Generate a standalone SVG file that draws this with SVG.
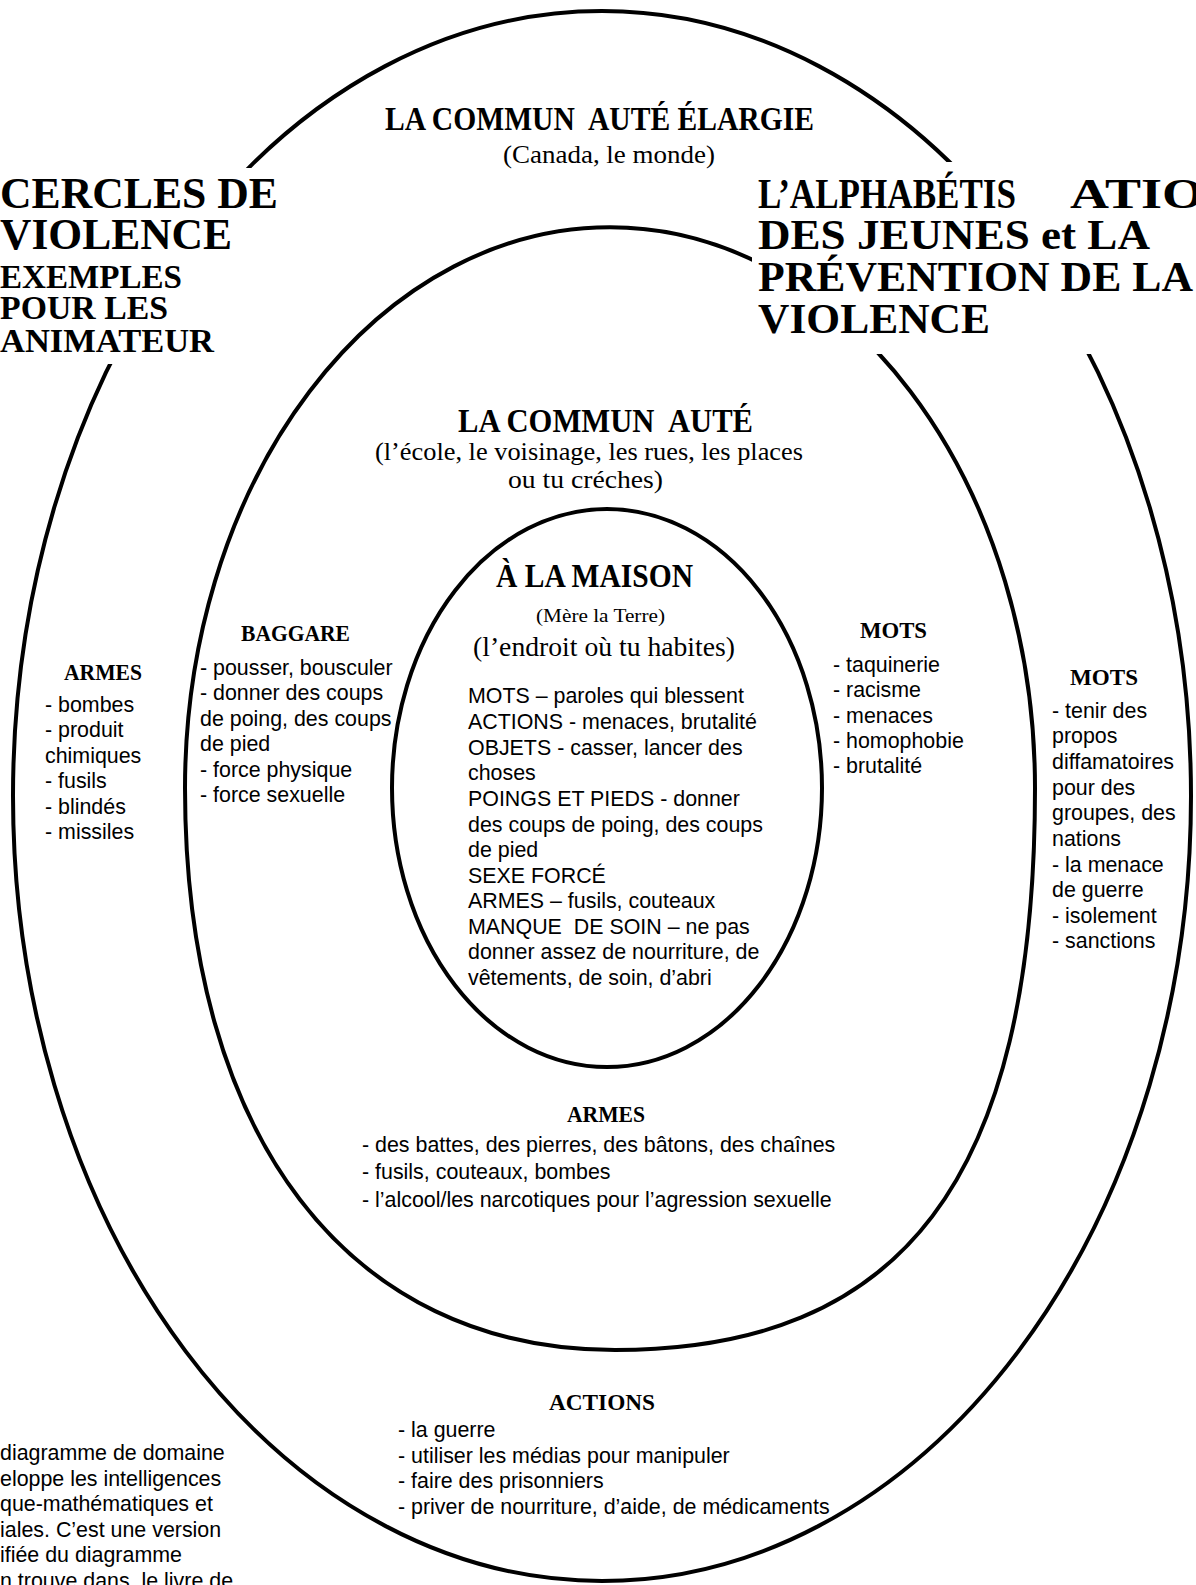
<svg xmlns="http://www.w3.org/2000/svg" width="1196" height="1585" viewBox="0 0 1196 1585">
<style>
.ring{fill:none;stroke:#000;stroke-width:4}
.mask{fill:#fff;stroke:none}
.ttl{font-family:"Liberation Serif","Times New Roman",serif;font-weight:bold;fill:#000;white-space:pre}
.hd{font-family:"Liberation Serif","Times New Roman",serif;font-weight:bold;font-size:24px;fill:#000;white-space:pre}
.sub{font-family:"Liberation Serif","Times New Roman",serif;fill:#000;white-space:pre}
.bd{font-family:"Liberation Sans",Arial,sans-serif;font-size:21.4px;fill:#000;white-space:pre}
</style>
<rect width="1196" height="1585" fill="#fff"/>
<g id="rings">
  <ellipse id="ring-outer" class="ring" cx="602" cy="796" rx="589" ry="785"/>
  <path id="ring-middle" class="ring" d="M 185 788 A 425 561 0 0 1 1035 788 C 1035 1181 901 1350 615 1350 C 348 1350 185 1136 185 788 Z"/>
  <ellipse id="ring-inner" class="ring" cx="607" cy="788" rx="215" ry="279"/>
</g>
<g id="connectors"/>
<g id="title-left">
  <rect class="mask" x="-2" y="168" width="286" height="196"/>
  <text class="ttl" x="0" y="208" font-size="45" textLength="278" lengthAdjust="spacingAndGlyphs">CERCLES DE</text>
  <text class="ttl" x="0" y="249" font-size="45" textLength="232" lengthAdjust="spacingAndGlyphs">VIOLENCE</text>
  <text class="ttl" x="0" y="288" font-size="34" textLength="182" lengthAdjust="spacingAndGlyphs">EXEMPLES</text>
  <text class="ttl" x="0" y="319" font-size="34" textLength="168" lengthAdjust="spacingAndGlyphs">POUR LES</text>
  <text class="ttl" x="0" y="352" font-size="34" textLength="214" lengthAdjust="spacingAndGlyphs">ANIMATEUR</text>
</g>
<g id="title-right">
  <rect class="mask" x="752" y="162" width="446" height="192"/>
  <text class="ttl" x="758" y="208" font-size="42" textLength="258" lengthAdjust="spacingAndGlyphs">L’ALPHABÉTIS</text>
  <text class="ttl" x="1070" y="208" font-size="42" textLength="134" lengthAdjust="spacingAndGlyphs">ATIO</text>
  <text class="ttl" x="758" y="249" font-size="42" textLength="392" lengthAdjust="spacingAndGlyphs">DES JEUNES et LA</text>
  <text class="ttl" x="758" y="291" font-size="42" textLength="435" lengthAdjust="spacingAndGlyphs">PRÉVENTION DE LA</text>
  <text class="ttl" x="758" y="333" font-size="42" textLength="232" lengthAdjust="spacingAndGlyphs">VIOLENCE</text>
</g>
<g id="node-outer">
  <text class="ttl" x="385" y="130" font-size="33" textLength="429" lengthAdjust="spacingAndGlyphs">LA COMMUN  AUTÉ ÉLARGIE</text>
  <text class="sub" x="503" y="163" font-size="26" textLength="212" lengthAdjust="spacingAndGlyphs">(Canada, le monde)</text>
  <text class="hd" x="64" y="680" textLength="78" lengthAdjust="spacingAndGlyphs">ARMES</text>
  <text class="bd" x="45" y="712">- bombes</text>
  <text class="bd" x="45" y="737">- produit</text>
  <text class="bd" x="45" y="763">chimiques</text>
  <text class="bd" x="45" y="788">- fusils</text>
  <text class="bd" x="45" y="814">- blindés</text>
  <text class="bd" x="45" y="839">- missiles</text>
  <text class="hd" x="1070" y="685" textLength="68" lengthAdjust="spacingAndGlyphs">MOTS</text>
  <text class="bd" x="1052" y="718">- tenir des</text>
  <text class="bd" x="1052" y="743">propos</text>
  <text class="bd" x="1052" y="769">diffamatoires</text>
  <text class="bd" x="1052" y="795">pour des</text>
  <text class="bd" x="1052" y="820">groupes, des</text>
  <text class="bd" x="1052" y="846">nations</text>
  <text class="bd" x="1052" y="872">- la menace</text>
  <text class="bd" x="1052" y="897">de guerre</text>
  <text class="bd" x="1052" y="923">- isolement</text>
  <text class="bd" x="1052" y="948">- sanctions</text>
  <text class="hd" x="549" y="1410" textLength="106" lengthAdjust="spacingAndGlyphs">ACTIONS</text>
  <text class="bd" x="398" y="1437">- la guerre</text>
  <text class="bd" x="398" y="1463">- utiliser les médias pour manipuler</text>
  <text class="bd" x="398" y="1488">- faire des prisonniers</text>
  <text class="bd" x="398" y="1514">- priver de nourriture, d’aide, de médicaments</text>
</g>
<g id="node-middle">
  <text class="ttl" x="458" y="432" font-size="33" textLength="295" lengthAdjust="spacingAndGlyphs">LA COMMUN  AUTÉ</text>
  <text class="sub" x="375" y="460" font-size="26" textLength="428" lengthAdjust="spacingAndGlyphs">(l’école, le voisinage, les rues, les places</text>
  <text class="sub" x="508" y="488" font-size="26" textLength="155" lengthAdjust="spacingAndGlyphs">ou tu créches)</text>
  <text class="hd" x="241" y="641" textLength="109" lengthAdjust="spacingAndGlyphs">BAGGARE</text>
  <text class="bd" x="200" y="675">- pousser, bousculer</text>
  <text class="bd" x="200" y="700">- donner des coups</text>
  <text class="bd" x="200" y="726">de poing, des coups</text>
  <text class="bd" x="200" y="751">de pied</text>
  <text class="bd" x="200" y="777">- force physique</text>
  <text class="bd" x="200" y="802">- force sexuelle</text>
  <text class="hd" x="860" y="638" textLength="67" lengthAdjust="spacingAndGlyphs">MOTS</text>
  <text class="bd" x="833" y="672">- taquinerie</text>
  <text class="bd" x="833" y="697">- racisme</text>
  <text class="bd" x="833" y="723">- menaces</text>
  <text class="bd" x="833" y="748">- homophobie</text>
  <text class="bd" x="833" y="773">- brutalité</text>
  <text class="hd" x="567" y="1122" textLength="78" lengthAdjust="spacingAndGlyphs">ARMES</text>
  <text class="bd" x="362" y="1152">- des battes, des pierres, des bâtons, des chaînes</text>
  <text class="bd" x="362" y="1179">- fusils, couteaux, bombes</text>
  <text class="bd" x="362" y="1207">- l’alcool/les narcotiques pour l’agression sexuelle</text>
</g>
<g id="node-inner">
  <text class="ttl" x="496" y="587" font-size="33" textLength="197" lengthAdjust="spacingAndGlyphs">À LA MAISON</text>
  <text class="sub" x="536" y="622" font-size="19" textLength="129" lengthAdjust="spacingAndGlyphs">(Mère la Terre)</text>
  <text class="sub" x="473" y="656" font-size="27" textLength="262" lengthAdjust="spacingAndGlyphs">(l’endroit où tu habites)</text>
  <text class="bd" x="468" y="703">MOTS – paroles qui blessent</text>
  <text class="bd" x="468" y="729">ACTIONS - menaces, brutalité</text>
  <text class="bd" x="468" y="755">OBJETS - casser, lancer des</text>
  <text class="bd" x="468" y="780">choses</text>
  <text class="bd" x="468" y="806">POINGS ET PIEDS - donner</text>
  <text class="bd" x="468" y="832">des coups de poing, des coups</text>
  <text class="bd" x="468" y="857">de pied</text>
  <text class="bd" x="468" y="883">SEXE FORCÉ</text>
  <text class="bd" x="468" y="908">ARMES – fusils, couteaux</text>
  <text class="bd" x="468" y="934">MANQUE  DE SOIN – ne pas</text>
  <text class="bd" x="468" y="959">donner assez de nourriture, de</text>
  <text class="bd" x="468" y="985">vêtements, de soin, d’abri</text>
</g>
<g id="note">
  <text class="bd" x="0" y="1460">diagramme de domaine</text>
  <text class="bd" x="0" y="1486">eloppe les intelligences</text>
  <text class="bd" x="0" y="1511">que-mathématiques et</text>
  <text class="bd" x="0" y="1537">iales. C’est une version</text>
  <text class="bd" x="0" y="1562">ifiée du diagramme</text>
  <text class="bd" x="0" y="1588">n trouve dans  le livre de</text>
</g>
</svg>
